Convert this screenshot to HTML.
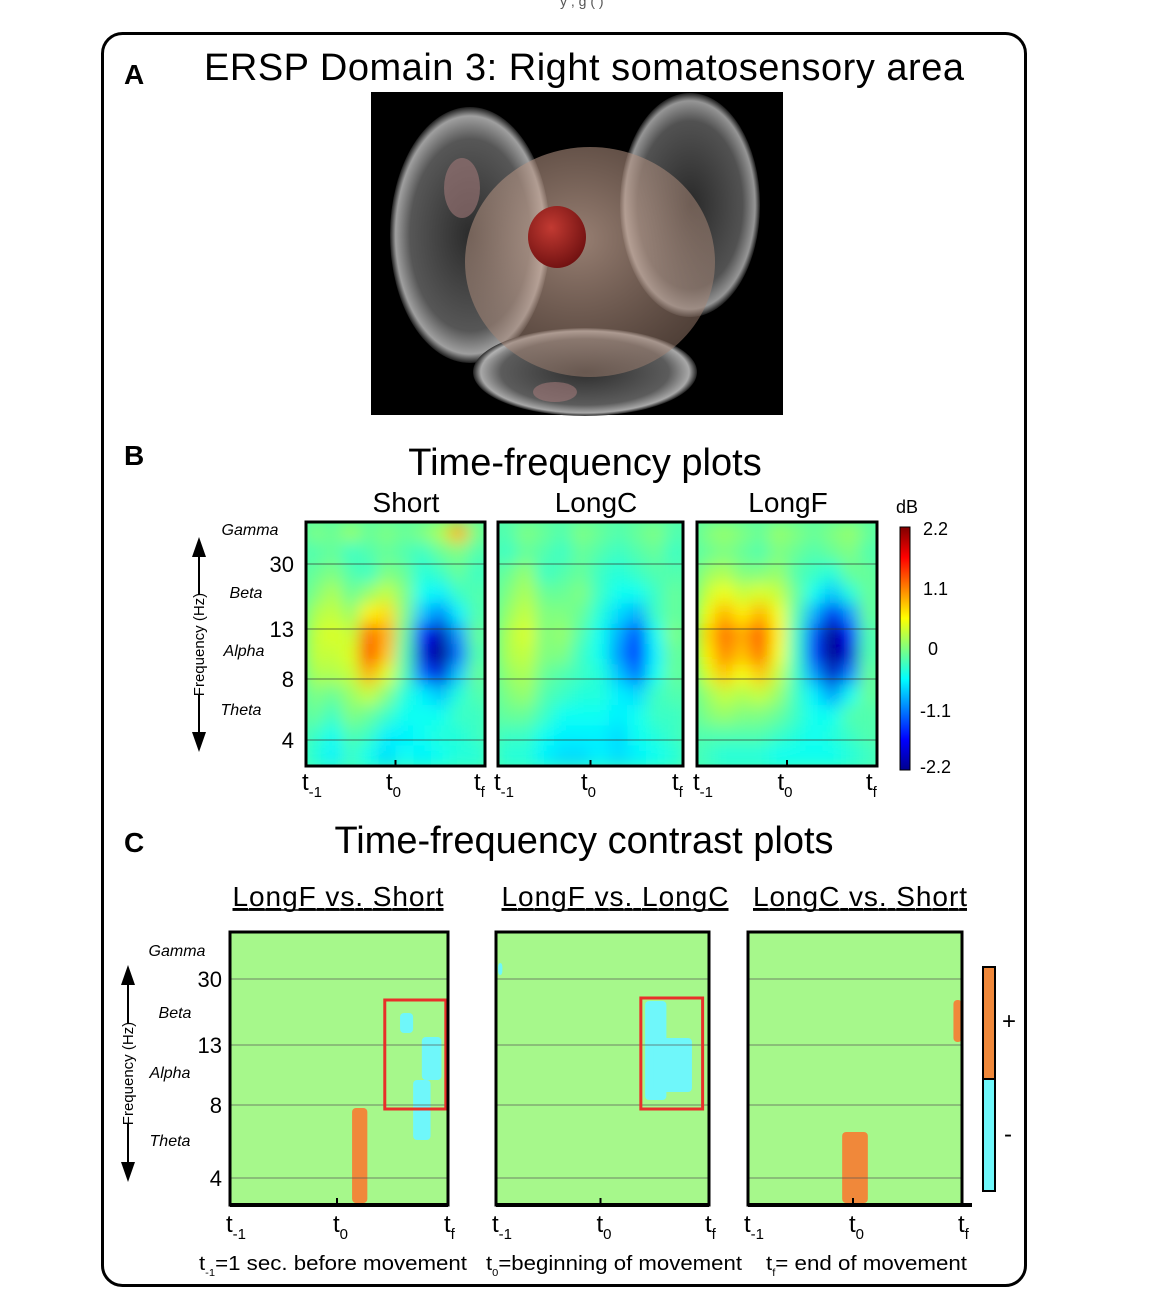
<!DOCTYPE html>
<html><head><meta charset="utf-8"><style>
html,body{margin:0;padding:0;background:#fff;}
svg text{font-family:"Liberation Sans",sans-serif;}
</style></head><body>
<svg id="fig" width="1150" height="1299" viewBox="0 0 1150 1299" xmlns="http://www.w3.org/2000/svg">
<defs>
  <filter id="blur" x="0" y="0" width="1" height="1"><feGaussianBlur stdDeviation="8" edgeMode="duplicate"/></filter>
  <radialGradient id="redg" cx="0.4" cy="0.35" r="0.7"><stop offset="0" stop-color="#c23a32"/><stop offset="1" stop-color="#6e1010"/></radialGradient>
  <radialGradient id="pinkg" cx="0.45" cy="0.4" r="0.6"><stop offset="0" stop-color="#d9b6a4" stop-opacity="0.7"/><stop offset="1" stop-color="#a08070" stop-opacity="0.5"/></radialGradient>
  <radialGradient id="grayg" cx="0.5" cy="0.5" r="0.5"><stop offset="0" stop-color="#333"/><stop offset="0.75" stop-color="#666"/><stop offset="0.93" stop-color="#bbb"/><stop offset="1" stop-color="#222"/></radialGradient>
  <linearGradient id="jetg" x1="0" y1="1" x2="0" y2="0">
    <stop offset="0" stop-color="#00008f"/><stop offset="0.125" stop-color="#0000ff"/><stop offset="0.375" stop-color="#00ffff"/>
    <stop offset="0.625" stop-color="#ffff00"/><stop offset="0.875" stop-color="#ff0000"/><stop offset="1" stop-color="#800000"/>
  </linearGradient>
  <clipPath id="c1"><rect x="306" y="522" width="179" height="244"/></clipPath>
  <clipPath id="c2"><rect x="498" y="522" width="185" height="244"/></clipPath>
  <clipPath id="c3"><rect x="697" y="522" width="180" height="244"/></clipPath>
</defs>

<text x="560" y="6" font-size="14" fill="#555">y      ,        g     (    )</text>
<rect x="102.5" y="33.5" width="923" height="1252" rx="20" fill="none" stroke="#000" stroke-width="3"/>

<text x="124" y="84" font-size="28" font-weight="bold">A</text>
<text x="584" y="80" font-size="38" text-anchor="middle" textLength="760">ERSP Domain 3: Right somatosensory area</text>
<g>
  <rect x="371" y="92" width="412" height="323" fill="#000"/>
  <ellipse cx="690" cy="205" rx="70" ry="112" fill="url(#grayg)" opacity="0.8"/>
  <ellipse cx="470" cy="235" rx="80" ry="128" fill="url(#grayg)" opacity="0.85"/>
  <ellipse cx="585" cy="372" rx="112" ry="44" fill="url(#grayg)" opacity="0.9"/>
  <ellipse cx="590" cy="262" rx="125" ry="115" fill="url(#pinkg)"/>
  <ellipse cx="462" cy="188" rx="18" ry="30" fill="#a07878" opacity="0.6"/>
  <ellipse cx="555" cy="392" rx="22" ry="10" fill="#a07878" opacity="0.6"/>
  <ellipse cx="557" cy="237" rx="29" ry="31" fill="url(#redg)"/>
</g>

<text x="124" y="465" font-size="28" font-weight="bold">B</text>
<text x="585" y="475" font-size="38" text-anchor="middle">Time-frequency plots</text>
<g id="heatmaps"></g>
<g id="baxis"></g>
<g>
  <rect x="900" y="527" width="10" height="243" fill="url(#jetg)" stroke="#000" stroke-width="1"/>
  <text x="896" y="513" font-size="18">dB</text>
  <text x="923" y="535" font-size="18">2.2</text>
  <text x="923" y="595" font-size="18">1.1</text>
  <text x="928" y="655" font-size="18">0</text>
  <text x="920" y="717" font-size="18">-1.1</text>
  <text x="920" y="773" font-size="18">-2.2</text>
</g>

<text x="124" y="852" font-size="28" font-weight="bold">C</text>
<text x="584" y="853" font-size="38" text-anchor="middle">Time-frequency contrast plots</text>
<g id="contrast"></g>
<g>
  <rect x="983" y="967" width="12" height="112" fill="#f0883a" stroke="#000" stroke-width="2"/>
  <rect x="983" y="1079" width="12" height="112" fill="#6ff7fa" stroke="#000" stroke-width="2"/>
  <text x="1002" y="1029" font-size="24">+</text>
  <text x="1004" y="1142" font-size="24">-</text>
</g>
<g font-size="20">
  <text x="199" y="1270" textLength="268" lengthAdjust="spacingAndGlyphs">t<tspan font-size="10" dy="6">-1</tspan><tspan dy="-6">=1 sec. before movement</tspan></text>
  <text x="486" y="1270" textLength="256" lengthAdjust="spacingAndGlyphs">t<tspan font-size="10" dy="6">0</tspan><tspan dy="-6">=beginning of movement</tspan></text>
  <text x="766" y="1270" textLength="201" lengthAdjust="spacingAndGlyphs">t<tspan font-size="10" dy="6">f</tspan><tspan dy="-6">= end of movement</tspan></text>
</g>
</svg>
<script>
const NS = 'http://www.w3.org/2000/svg';
const shortVals = [
 [0.0,-0.1,0.1,-0.1,0.0,-0.1,0.0,0.2,0.9,0.0],
 [-0.2,-0.1,-0.3,-0.2,-0.1,-0.2,-0.3,-0.1,0.0,-0.2],
 [-0.1,0.0,-0.2,-0.3,0.0,-0.1,-0.4,-0.3,-0.1,-0.3],
 [0.0,0.2,-0.1,0.1,0.3,0.0,-0.5,-0.6,-0.3,-0.2],
 [0.2,0.3,0.1,0.6,0.7,0.0,-0.8,-1.1,-0.6,-0.2],
 [0.3,0.4,0.3,1.2,0.9,-0.1,-1.5,-2.0,-1.0,-0.1],
 [0.3,0.3,0.4,1.4,0.8,-0.2,-1.8,-2.2,-1.2,-0.2],
 [0.2,0.2,0.3,0.9,0.4,-0.2,-1.2,-1.8,-0.8,-0.1],
 [0.0,-0.1,0.1,0.3,0.0,-0.4,-0.6,-0.8,-0.4,-0.2],
 [-0.1,-0.3,0.0,-0.1,-0.3,-0.5,-0.5,-0.5,-0.3,-0.3],
 [-0.3,-0.5,-0.2,-0.3,-0.6,-0.6,-0.5,-0.4,-0.4,-0.3],
 [-0.4,-0.6,-0.3,-0.5,-0.7,-0.5,-0.6,-0.5,-0.4,-0.4]
];
const longCVals = [
 [-0.2,0.0,-0.1,-0.2,0.0,-0.1,-0.2,-0.1,0.0,-0.2],
 [-0.3,-0.1,-0.2,-0.3,-0.1,-0.2,-0.3,-0.2,-0.1,-0.3],
 [-0.1,0.1,-0.3,-0.2,-0.1,-0.3,-0.4,-0.3,-0.2,-0.2],
 [0.0,0.2,-0.1,-0.1,0.0,-0.3,-0.5,-0.5,-0.3,-0.1],
 [0.1,0.3,0.0,0.0,-0.1,-0.4,-0.7,-0.9,-0.3,-0.1],
 [0.2,0.4,0.0,0.1,-0.2,-0.5,-0.9,-1.4,-0.5,0.0],
 [0.2,0.3,0.0,0.0,-0.3,-0.5,-1.0,-1.6,-0.6,-0.1],
 [0.1,0.2,-0.1,-0.2,-0.3,-0.4,-0.8,-1.2,-0.5,-0.1],
 [0.0,0.1,-0.2,-0.3,-0.4,-0.4,-0.6,-0.7,-0.3,-0.2],
 [-0.1,-0.1,-0.3,-0.5,-0.5,-0.5,-0.6,-0.5,-0.3,-0.3],
 [-0.3,-0.3,-0.5,-0.6,-0.6,-0.6,-0.7,-0.5,-0.4,-0.3],
 [-0.4,-0.4,-0.6,-0.7,-0.7,-0.6,-0.7,-0.6,-0.5,-0.4]
];
const longFVals = [
 [0.0,0.1,0.0,-0.1,0.1,0.0,-0.1,0.0,0.1,-0.1],
 [-0.1,0.0,-0.1,-0.2,0.0,-0.1,-0.2,-0.1,0.0,-0.2],
 [0.1,0.2,0.0,0.0,0.1,-0.2,-0.3,-0.4,-0.1,-0.1],
 [0.3,0.5,0.3,0.4,0.3,-0.1,-0.5,-0.8,-0.4,-0.1],
 [0.5,0.9,0.6,0.9,0.5,-0.2,-0.9,-1.7,-1.0,-0.1],
 [0.7,1.2,0.9,1.3,0.6,-0.3,-1.3,-2.3,-1.6,-0.2],
 [0.6,1.1,0.8,1.2,0.5,-0.3,-1.4,-2.4,-1.8,-0.2],
 [0.4,0.8,0.5,0.8,0.3,-0.3,-1.0,-1.9,-1.1,-0.1],
 [0.1,0.3,0.2,0.3,0.1,-0.3,-0.6,-1.0,-0.5,-0.1],
 [0.0,0.1,0.0,0.0,-0.1,-0.3,-0.5,-0.5,-0.2,-0.2],
 [-0.2,-0.2,-0.2,-0.2,-0.3,-0.4,-0.5,-0.4,-0.3,-0.2],
 [-0.3,-0.4,-0.4,-0.4,-0.5,-0.5,-0.5,-0.5,-0.4,-0.3]
];
const heatTitles = ['Short','LongC','LongF'];
const freqTicks = ['30','13','8','4'];
const bandLabels = ['Gamma','Beta','Alpha','Theta'];
const dbMin = -2.2, dbMax = 2.2;

function jet(v){
  const t = Math.max(0, Math.min(1, (v - dbMin) / (dbMax - dbMin)));
  const c = x => Math.round(255 * Math.max(0, Math.min(1, 1.5 - Math.abs(x))));
  return `rgb(${c(4*t-3)},${c(4*t-2)},${c(4*t-1)})`;
}
function mk(tag, attrs, parent){
  const e = document.createElementNS(NS, tag);
  for (const k in attrs) e.setAttribute(k, attrs[k]);
  parent.appendChild(e); return e;
}
function xTicks(parent, x0, x1, y){
  const labs = [['t','-1'],['t','0'],['t','f']];
  const xs = [x0, (x0 + x1) / 2 - 2, x1];
  labs.forEach((l, i) => {
    const t = mk('text', {x: xs[i] - 4, y: y, 'font-size': 24}, parent);
    
    
    t.textContent = l[0];
    const s = document.createElementNS(NS, 'tspan');
    s.setAttribute('font-size', '15'); s.setAttribute('dy', '7'); s.textContent = l[1];
    t.appendChild(s);
  });
}

const hm = document.getElementById('heatmaps');
const panelsB = [
  {x:306, w:179, vals:shortVals, clip:'c1', tx:406},
  {x:498, w:185, vals:longCVals, clip:'c2', tx:596},
  {x:697, w:180, vals:longFVals, clip:'c3', tx:788}
];
const bTop = 522, bH = 244;
const gridYB = [564, 629, 679, 740];
panelsB.forEach((p, pi) => {
  const g = mk('g', {'clip-path': `url(#${p.clip})`}, hm);
  
  
  mk('rect', {x:p.x, y:bTop, width:p.w, height:bH, fill:jet(-0.2)}, g);
  const inner = mk('g', {filter:'url(#blur)'}, g);
  const rows = p.vals.length, cols = p.vals[0].length;
  const cw = p.w / cols, ch = bH / rows;
  p.vals.forEach((row, r) => row.forEach((v, c) => {
    const cell = mk('rect', {x:p.x + c*cw, y:bTop + r*ch, width:cw + 0.5, height:ch + 0.5, fill:jet(v)}, inner);
    
    
  }));
  gridYB.forEach(y => mk('line', {x1:p.x, x2:p.x + p.w, y1:y, y2:y, stroke:'#333', 'stroke-width':1, opacity:0.7}, hm));
  const fr = mk('rect', {x:p.x, y:bTop, width:p.w, height:bH, fill:'none', stroke:'#000', 'stroke-width':3}, hm);
  
  
  const tt = mk('text', {x:p.tx, y:512, 'font-size':28, 'text-anchor':'middle'}, hm);
  
  
  tt.textContent = heatTitles[pi];
  mk('line', {x1:p.x + p.w/2, x2:p.x + p.w/2, y1:bTop + bH, y2:bTop + bH - 6, stroke:'#000', 'stroke-width':2}, hm);
  xTicks(hm, p.x, p.x + p.w - 7, 790);
});

function yAxis(parent, ax, ay0, ay1, tickX, tickYs, bandX, bandYs, fs, tfs){
  const g = mk('g', {}, parent);
  
  
  mk('line', {x1:ax, x2:ax, y1:ay0 + 14, y2:ay1 - 14, stroke:'#000', 'stroke-width':2}, g);
  mk('path', {d:`M${ax-7},${ay0+20} L${ax},${ay0} L${ax+7},${ay0+20} Z`, fill:'#000'}, g);
  mk('path', {d:`M${ax-7},${ay1-20} L${ax},${ay1} L${ax+7},${ay1-20} Z`, fill:'#000'}, g);
  const my = (ay0 + ay1) / 2;
  mk('rect', {x:ax - 9, y:my - 50, width:18, height:100, fill:'#fff'}, g);
  const lab = mk('text', {x:ax + 5, y:my, 'font-size':15, 'text-anchor':'middle', transform:`rotate(-90 ${ax+5} ${my})`}, g);
  
  
  lab.textContent = 'Frequency (Hz)';
  freqTicks.forEach((t, i) => {
    const e = mk('text', {x:tickX, y:tickYs[i] + 8, 'font-size':tfs, 'text-anchor':'end'}, g);
    
    
    e.textContent = t;
  });
  bandLabels.forEach((b, i) => {
    const e = mk('text', {x:bandX[i], y:bandYs[i] + 5, 'font-size':fs, 'font-style':'italic', 'text-anchor':'middle'}, g);
    
    
    e.textContent = b;
  });
}
const ba = document.getElementById('baxis');
yAxis(ba, 199, 537, 752, 294, gridYB, [250,246,244,241], [530,593,651,710], 16, 22);

const ct = document.getElementById('contrast');
const contrastTitles = ['LongF vs. Short','LongF vs. LongC','LongC vs. Short'];
const cTop = 932, cBot = 1205;
const gridYC = [979, 1045, 1105, 1178];
const panelsC = [
  {x:230, w:218, tx:338, tw:211}, {x:496, w:213, tx:615, tw:227}, {x:748, w:214, tx:860, tw:214}
];
const clusterPanel = [0,0,0,0,1,1,1,2,2];
const clusterSign  = ['+','-','-','-','-','-','-','+','+'];
const clusterT0    = [0.56,0.78,0.88,0.84,0.70,0.74,0.01,0.44,0.96];
const clusterT1    = [0.63,0.84,0.97,0.92,0.80,0.92,0.03,0.56,1.00];
const clusterF0    = [1108,1013,1037,1080,1001,1038,963,1132,1000];
const clusterF1    = [1203,1033,1080,1140,1100,1092,975,1203,1042];
const boxPanel = [0,1];
const boxT0 = [0.71, 0.68];
const boxT1 = [0.99, 0.97];
const boxF0 = [1000, 998];
const boxF1 = [1109, 1109];

panelsC.forEach((p, pi) => {
  const g = mk('g', {}, ct);
  
  
  mk('rect', {x:p.x, y:cTop, width:p.w, height:cBot - cTop, fill:'#a6f88b'}, g);
  clusterPanel.forEach((cp, i) => {
    if (cp !== pi) return;
    const x0 = p.x + clusterT0[i] * p.w, x1 = p.x + clusterT1[i] * p.w;
    const e = mk('rect', {x:x0, y:clusterF0[i], width:x1 - x0, height:clusterF1[i] - clusterF0[i], rx:4,
      fill: clusterSign[i] === '+' ? '#f0883a' : '#6ff7fa'}, g);
    
    
  });
  gridYC.forEach(y => mk('line', {x1:p.x, x2:p.x + p.w, y1:y, y2:y, stroke:'#555', 'stroke-width':1, opacity:0.7}, g));
  boxPanel.forEach((bp, i) => {
    if (bp !== pi) return;
    const x0 = p.x + boxT0[i] * p.w, x1 = p.x + boxT1[i] * p.w;
    const e = mk('rect', {x:x0, y:boxF0[i], width:x1 - x0, height:boxF1[i] - boxF0[i], fill:'none', stroke:'#e8302a', 'stroke-width':3}, g);
    
    
  });
  mk('rect', {x:p.x, y:cTop, width:p.w, height:cBot - cTop, fill:'none', stroke:'#000', 'stroke-width':3}, g);
  mk('line', {x1:p.x, x2:p.x + p.w + (pi === 2 ? 10 : 0), y1:cBot, y2:cBot, stroke:'#000', 'stroke-width':4}, g);
  mk('line', {x1:p.x + p.w/2 - 2, x2:p.x + p.w/2 - 2, y1:cBot, y2:cBot - 7, stroke:'#000', 'stroke-width':2}, g);
  const tt = mk('text', {x:p.tx, y:906, 'font-size':28, 'text-anchor':'middle', 'text-decoration':'underline', textLength:p.tw}, ct);
  
  
  tt.textContent = contrastTitles[pi];
  mk('line', {x1:p.tx - p.tw/2, x2:p.tx + p.tw/2, y1:910, y2:910, stroke:'#000', 'stroke-width':1.5}, ct);
  xTicks(ct, p.x, p.x + p.w, 1232);
});
yAxis(ct, 128, 965, 1182, 222, gridYC, [177,175,170,170], [951,1013,1073,1141], 16, 22);
</script>
</body></html>
